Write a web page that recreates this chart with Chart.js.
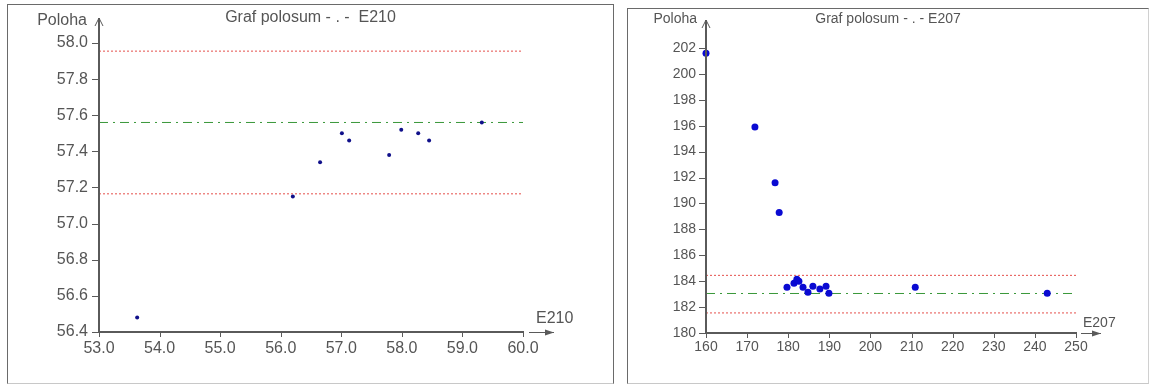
<!DOCTYPE html>
<html>
<head>
<meta charset="utf-8">
<script src="https://cdn.jsdelivr.net/npm/chart.js@4"></script>
<style>
  body { margin: 0; background: #fff; width: 1149px; height: 385px; position: relative; overflow: hidden; }
  .panel { position: absolute; box-sizing: border-box; border: 1px solid #6a6a6a; border-bottom-color: #c8c8c8; background: #fff; }
  #p1 { left: 7px; top: 4px; width: 607px; height: 380px; }
  #p2 { left: 627px; top: 8px; width: 522px; height: 376px; border-right-color: #d0d0d0; }
  canvas { display: block; }
</style>
</head>
<body>
<div class="panel" id="p1"><canvas id="chartE210" width="605" height="378"></canvas></div>
<div class="panel" id="p2"><canvas id="chartE207" width="520" height="374"></canvas></div>
<script>
// E210 panel
const e210X = [53.63, 56.20, 56.65, 57.01, 57.13, 57.79, 57.99, 58.27, 58.45, 59.32];
const e210Y = [56.48, 57.15, 57.34, 57.50, 57.46, 57.38, 57.52, 57.50, 57.46, 57.56];
const e210Limits = [57.955, 57.165];   // red dotted
const e210Center = 57.56;              // green dash-dot
const e210XTicks = [53, 54, 55, 56, 57, 58, 59, 60];
const e210YTicks = [56.4, 56.6, 56.8, 57.0, 57.2, 57.4, 57.6, 57.8, 58.0];

// E207 panel
const e207X = [160.0, 171.9, 176.8, 177.8, 179.7, 181.4, 182.1, 182.6, 183.6, 184.8, 186.0, 187.7, 189.2, 189.9, 210.9, 243.0];
const e207Y = [201.6, 195.9, 191.6, 189.3, 183.54, 183.85, 184.15, 184.0, 183.54, 183.15, 183.6, 183.4, 183.6, 183.07, 183.54, 183.07];
const e207Limits = [184.45, 181.55];
const e207Center = 183.05;
const e207XTicks = [160, 170, 180, 190, 200, 210, 220, 230, 240, 250];
const e207YTicks = [180, 182, 184, 186, 188, 190, 192, 194, 196, 198, 200, 202];

const FONT = "'Liberation Sans', Arial, sans-serif";
const AXIS = "#5a5a5a";
const TEXT = "#555";

// axes, tick marks, arrows, axis names and title
const arrowsPlugin = {
  id: "arrows",
  afterDraw(chart, args, o) {
    const ctx = chart.ctx;
    const a = chart.chartArea;
    const sx = chart.scales.x, sy = chart.scales.y;
    const L = Math.round(a.left), B = Math.round(a.bottom), R = Math.round(a.right);
    ctx.save();
    ctx.setLineDash([]);
    ctx.globalAlpha = 1;
    ctx.globalCompositeOperation = "source-over";
    ctx.strokeStyle = AXIS;
    ctx.fillStyle = AXIS;
    // tick marks
    ctx.lineWidth = 1;
    ctx.beginPath();
    sy.ticks.forEach(t => {
      const py = Math.round(sy.getPixelForValue(t.value)) + 0.5;
      ctx.moveTo(L - 7, py);
      ctx.lineTo(L, py);
    });
    sx.ticks.forEach(t => {
      const px = Math.round(sx.getPixelForValue(t.value)) + 0.5;
      ctx.moveTo(px, B);
      ctx.lineTo(px, B + 5);
    });
    ctx.stroke();
    // axes
    ctx.lineWidth = 2;
    ctx.beginPath();
    ctx.moveTo(L, B);
    ctx.lineTo(R + 1, B);
    ctx.moveTo(L, B + 1);
    ctx.lineTo(L, o.yTip);
    ctx.stroke();
    // open arrowhead on y
    ctx.lineWidth = 1;
    ctx.beginPath();
    ctx.moveTo(L - 4, o.yTip + 8);
    ctx.lineTo(L, o.yTip);
    ctx.lineTo(L + 4, o.yTip + 8);
    ctx.stroke();
    // x arrow after the axis end
    const x1 = R + o.xGap, x2 = x1 + o.xLen;
    ctx.beginPath();
    ctx.moveTo(x1, B + 0.5);
    ctx.lineTo(x2, B + 0.5);
    ctx.stroke();
    ctx.beginPath();
    ctx.moveTo(x2, B + 0.5);
    ctx.lineTo(x2 - 9, B - 2.5);
    ctx.lineTo(x2 - 9, B + 3.5);
    ctx.closePath();
    ctx.fill();
    // texts
    ctx.fillStyle = TEXT;
    ctx.font = o.size + "px " + FONT;
    ctx.textBaseline = "alphabetic";
    ctx.textAlign = "right";
    ctx.fillText(o.yName, L - o.yNameGap, o.yNameBase);
    ctx.textAlign = "left";
    ctx.fillText(o.xName, R + o.xNameDx, B - o.xNameDy);
    ctx.textAlign = "center";
    ctx.fillText(o.title, chart.width / 2, o.titleBase);
    ctx.restore();
  }
};

function makeChart(id, xs, ys, limits, center, xTicks, yTicks, cfg) {
  const x0 = xTicks[0], x1 = xTicks[xTicks.length - 1];
  const pts = xs.map((x, i) => ({ x: x, y: ys[i] }));
  const hline = v => [{ x: x0, y: v }, { x: x1, y: v }];
  return new Chart(document.getElementById(id), {
    type: "scatter",
    data: {
      datasets: [
        {
          data: pts,
          backgroundColor: cfg.pointColor,
          borderColor: cfg.pointColor,
          pointRadius: cfg.pointRadius,
          pointBorderWidth: 0,
          clip: 10,
        },
        {
          type: "line",
          data: hline(center),
          borderColor: "#3a983a",
          borderWidth: 1,
          borderDash: [9, 5, 2, 5],
          pointRadius: 0,
          fill: false,
        },
        {
          type: "line",
          data: hline(limits[0]),
          borderColor: "#e5504c",
          borderWidth: 1,
          borderDash: [2, 2],
          pointRadius: 0,
          fill: false,
        },
        {
          type: "line",
          data: hline(limits[1]),
          borderColor: "#e5504c",
          borderWidth: 1,
          borderDash: [2, 2],
          pointRadius: 0,
          fill: false,
        },
      ],
    },
    options: {
      responsive: false,
      animation: false,
      layout: { padding: { left: 0, top: cfg.top, right: cfg.right, bottom: 0 } },
      plugins: {
        legend: { display: false },
        tooltip: { enabled: false },
        arrows: cfg.arrows,
      },
      scales: {
        x: {
          type: "linear",
          min: x0,
          max: x1,
          afterFit: s => { s.height = cfg.bottom; },
          afterBuildTicks: s => { s.ticks = xTicks.map(v => ({ value: v })); },
          grid: { display: false, drawTicks: true, tickLength: 5 },
          border: { display: false },
          ticks: {
            color: TEXT,
            padding: cfg.xPad,
            maxRotation: 0,
            font: { family: FONT, size: cfg.size },
            callback: v => cfg.dec ? Number(v).toFixed(1) : String(v),
          },
        },
        y: {
          type: "linear",
          min: yTicks[0],
          max: yTicks[yTicks.length - 1],
          afterFit: s => { s.width = cfg.left; },
          afterBuildTicks: s => { s.ticks = yTicks.map(v => ({ value: v })); },
          grid: { display: false, drawTicks: true, tickLength: 6 },
          border: { display: false },
          ticks: {
            color: TEXT,
            padding: cfg.yPad,
            font: { family: FONT, size: cfg.size },
            callback: v => cfg.dec ? Number(v).toFixed(1) : String(v),
          },
        },
      },
    },
    plugins: [arrowsPlugin],
  });
}

makeChart("chartE210", e210X, e210Y, e210Limits, e210Center, e210XTicks, e210YTicks, {
  top: 38, right: 90, bottom: 51, left: 91,
  size: 16, xPad: 2, yPad: 5, dec: true,
  pointColor: "#10108a", pointRadius: 2,
  arrows: {
    yTip: 13, xGap: 6, xLen: 25, size: 16,
    yName: "Poloha", yNameGap: 12, yNameBase: 20,
    xName: "E210", xNameDx: 13, xNameDy: 9,
    title: "Graf polosum - . -  E210", titleBase: 17,
  },
});

makeChart("chartE207", e207X, e207Y, e207Limits, e207Center, e207XTicks, e207YTicks, {
  top: 39, right: 72, bottom: 50, left: 78,
  size: 14, xPad: 1, yPad: 4, dec: false,
  pointColor: "#0a0ad2", pointRadius: 3.5,
  arrows: {
    yTip: 11, xGap: 5, xLen: 20, size: 14,
    yName: "Poloha", yNameGap: 9, yNameBase: 14,
    xName: "E207", xNameDx: 7, xNameDy: 6,
    title: "Graf polosum - . - E207", titleBase: 14,
  },
});
</script>
</body>
</html>
